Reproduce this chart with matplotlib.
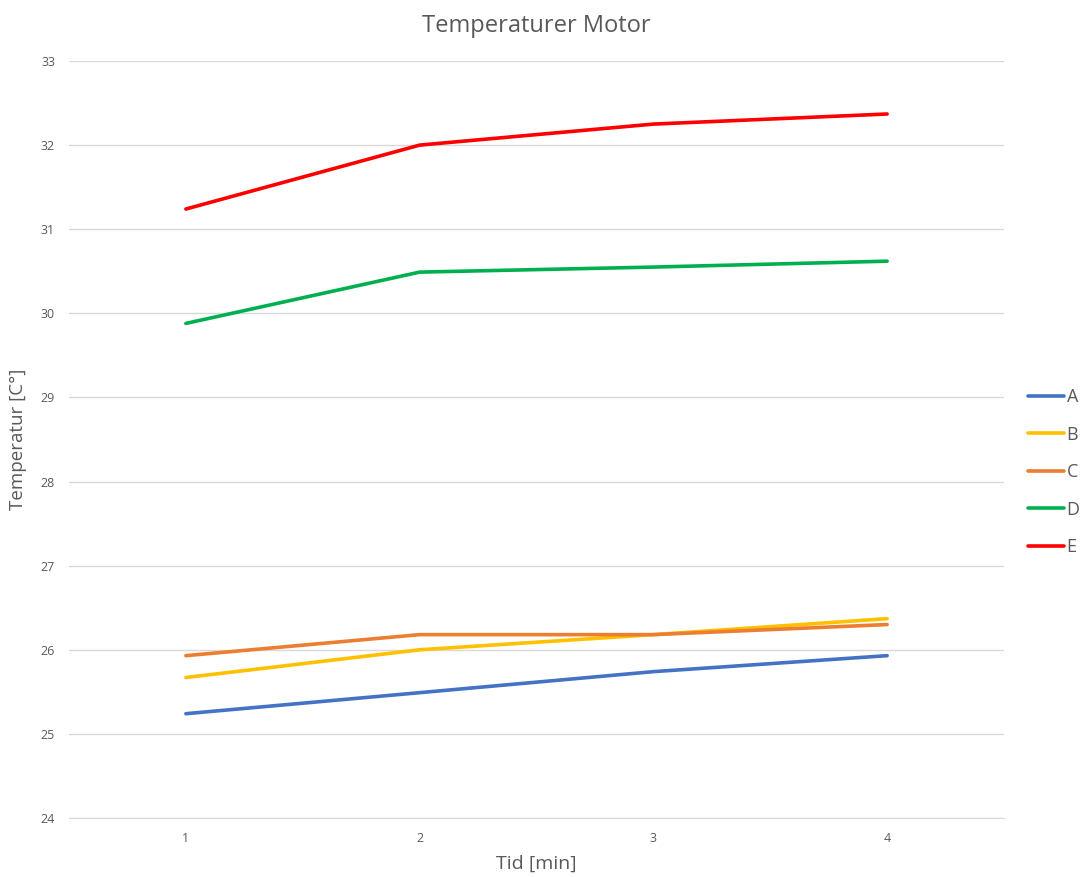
import matplotlib
matplotlib.use('Agg')
import matplotlib.pyplot as plt

plt.rcParams['font.family'] = ['Open Sans', 'DejaVu Sans']

tid = [1, 2, 3, 4]
serie_a = [25.24, 25.49, 25.74, 25.93]
serie_b = [25.67, 26.0, 26.18, 26.37]
serie_c = [25.93, 26.18, 26.18, 26.30]
serie_d = [29.88, 30.49, 30.55, 30.62]
serie_e = [31.24, 32.0, 32.25, 32.37]
navn = ['A', 'B', 'C', 'D', 'E']
farger = ['#4472C4', '#FFC000', '#ED7D31', '#00B050', '#FF0000']

grey = '#595959'
fig = plt.figure(figsize=(10.82, 8.77), dpi=100)
ax = fig.add_axes([69 / 1082, 1 - 818 / 877, (1004 - 69) / 1082, (818 - 61) / 877])

for verdier, n, c in zip([serie_a, serie_b, serie_c, serie_d, serie_e], navn, farger):
    ax.plot(tid, verdier, color=c, lw=2.6, label=n, solid_capstyle='round')

ax.set_xlim(0.5, 4.5)
ax.set_ylim(24, 33)
ax.set_xticks(tid)
ax.set_yticks(range(24, 34))
ax.grid(axis='y', color='#D9D9D9', lw=1)
ax.set_axisbelow(True)
for s in ['top', 'right', 'left']:
    ax.spines[s].set_visible(False)
ax.spines['bottom'].set_color('#D9D9D9')
ax.tick_params(length=0, labelsize=9, labelcolor=grey)
ax.tick_params(axis='x', pad=10)
ax.tick_params(axis='y', pad=10)

ax.set_title('Temperaturer Motor', fontsize=17, color=grey, pad=21)
ax.set_xlabel('Tid [min]', fontsize=14, color=grey, labelpad=7)
ax.set_ylabel('Temperatur [C°]', fontsize=13.5, color=grey, labelpad=10)

leg = ax.legend(loc='center left', bbox_to_anchor=(1.008, 0.457), frameon=False,
                fontsize=13, handlelength=2.0, handletextpad=0.15, labelspacing=1.08,
                labelcolor=grey)

fig.savefig('out.png', dpi=100)
